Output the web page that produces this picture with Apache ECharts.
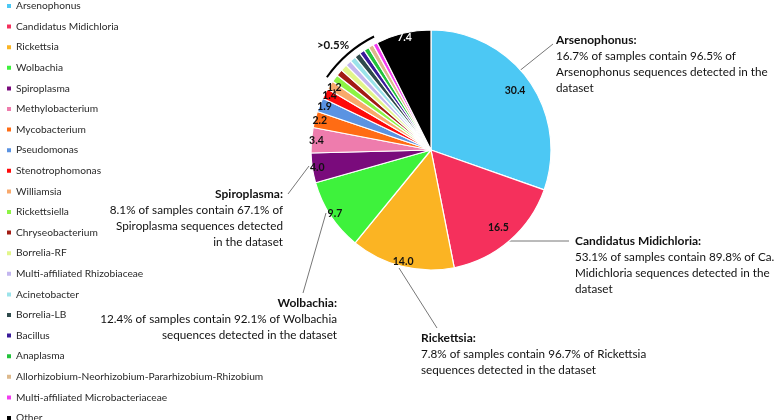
<!DOCTYPE html>
<html>
<head>
<meta charset="utf-8">
<script src="https://cdn.jsdelivr.net/npm/echarts@6/dist/echarts.min.js"></script>
<style>
  html, body { margin: 0; padding: 0; background: #fff; }
  #chart { width: 778px; height: 420px; }
</style>
</head>
<body>
<div id="chart"></div>
<script>
// genera, clockwise from 12 o'clock
const genera = ['Arsenophonus', 'Candidatus Midichloria', 'Rickettsia', 'Wolbachia', 'Spiroplasma',
  'Methylobacterium', 'Mycobacterium', 'Pseudomonas', 'Stenotrophomonas', 'Williamsia',
  'Rickettsiella', 'Chryseobacterium', 'Borrelia-RF', 'Multi-affiliated Rhizobiaceae', 'Acinetobacter',
  'Borrelia-LB', 'Bacillus', 'Anaplasma', 'Allorhizobium-Neorhizobium-Pararhizobium-Rhizobium',
  'Multi-affiliated Microbacteriaceae', 'Other'];
// % of sequences
const shares = [30.4, 16.5, 14.0, 9.7, 4.0, 3.4, 2.2, 1.9, 1.4, 1.2,
  1.0, 0.9, 0.9, 0.8, 0.8, 0.8, 0.7, 0.7, 0.7, 0.6, 7.4];
const colors = ['#4cc8f4', '#f5305c', '#fbb423', '#3ef23c', '#7a0b7c', '#ee7cad', '#ff6c14', '#5a93e2',
  '#ff0a0a', '#f8a96c', '#8cf444', '#a21c14', '#e2f68a', '#c3b6ef', '#9be3ea', '#2f4a4b', '#3a1b9a',
  '#22c33b', '#ddb98c', '#f23cf0', '#000000'];
const labelMin = 1.2;      // slices below this carry no number
const bigMin = 15;         // big slices get their number a bit further in
const smallFrom = 10;      // first of the ">0.5%" group
const smallTo = 19;        // last of the ">0.5%" group

const notes = [
  { title: 'Arsenophonus:', lines: ['16.7% of samples contain 96.5% of', 'Arsenophonus sequences detected in the', 'dataset'] },
  { title: 'Candidatus Midichloria:', lines: ['53.1% of samples contain 89.8% of Ca.', 'Midichloria sequences detected in the', 'dataset'] },
  { title: 'Rickettsia:', lines: ['7.8% of samples contain 96.7% of Rickettsia', 'sequences detected in the dataset'] },
  { title: 'Wolbachia:', lines: ['12.4% of samples contain 92.1% of Wolbachia', 'sequences detected in the dataset'] },
  { title: 'Spiroplasma:', lines: ['8.1% of samples contain 67.1% of', 'Spiroplasma sequences detected', 'in the dataset'] }
];

const cx = 431, cy = 150, R = 120;
const font = 'Lato, "Noto Sans", sans-serif';

let chart = echarts.init(document.getElementById('chart'));

const pieData = genera.map((g, i) => ({ name: g, value: shares[i], itemStyle: { color: colors[i] } }));
const labelData = genera.map((g, i) => ({
  name: g, value: shares[i],
  label: { color: i === genera.length - 1 ? '#fff' : '#111' }
}));

// arc over the small group, angles derived from the data
const total = shares.reduce((a, b) => a + b, 0);
const before = shares.slice(0, smallFrom).reduce((a, b) => a + b, 0);
const groupSum = shares.slice(smallFrom, smallTo + 1).reduce((a, b) => a + b, 0);
const a0 = (before / total) * 2 * Math.PI - Math.PI / 2;
const a1 = ((before + groupSum) / total) * 2 * Math.PI - Math.PI / 2;

function noteText(n) {
  return '{b|' + n.title + '}\n' + n.lines.join('\n');
}
const noteRich = { b: { fontWeight: 'bold', fontSize: 12, fontFamily: font, color: '#111', lineHeight: 16 } };
function note(x, y, n, align) {
  return {
    type: 'text', x: x, y: y,
    style: {
      text: noteText(n), rich: noteRich, fontFamily: font, fontSize: 11.7, lineHeight: 16,
      fill: '#111', align: align, verticalAlign: 'top'
    }
  };
}
function lead(pts) {
  return { type: 'polyline', shape: { points: pts }, style: { stroke: '#777', lineWidth: 1, fill: null } };
}
function labelRing(radius, keep) {
  return {
    type: 'pie', center: [cx, cy], radius: radius, startAngle: 90,
    data: labelData, silent: true, avoidLabelOverlap: false,
    itemStyle: { color: 'transparent' },
    emphasis: { disabled: true },
    labelLine: { show: false },
    labelLayout: { hideOverlap: false },
    label: {
      show: true, position: 'inside', fontFamily: font, fontWeight: 'bold', fontSize: 10.5,
      formatter: p => keep(p.value) ? p.value.toFixed(1) : ''
    }
  };
}

chart.setOption({
  animation: false,
  color: colors,
  legend: {
    orient: 'vertical', left: 0, top: -5, height: 440,
    data: genera,
    icon: 'rect', itemWidth: 6, itemHeight: 6, itemGap: 8.6,
    selectedMode: false,
    textStyle: { fontFamily: font, fontSize: 10.2, color: '#2a2a2a', lineHeight: 12, padding: [0, 0, 0, -1] }
  },
  series: [
    {
      type: 'pie', center: [cx, cy], radius: [0, R], startAngle: 90,
      data: pieData, label: { show: false }, labelLine: { show: false },
      itemStyle: { borderColor: '#fff', borderWidth: 1.2 },
      emphasis: { disabled: true }, silent: true
    },
    labelRing([76, 124], v => v >= bigMin),
    labelRing([98, 126], v => v >= labelMin && v < bigMin)
  ],
  graphic: [
    {
      type: 'arc', shape: { cx: cx, cy: cy, r: 127, startAngle: a0, endAngle: a1 },
      style: { stroke: '#000', lineWidth: 2, fill: null }
    },
    {
      type: 'text', x: 333, y: 45,
      style: { text: '>0.5%', fontFamily: font, fontWeight: 'bold', fontSize: 11.5, fill: '#111', align: 'center', verticalAlign: 'middle' }
    },
    lead([[518, 72], [553, 44]]),
    lead([[503, 241], [569, 241]]),
    lead([[399, 268], [437, 328]]),
    lead([[326, 213], [303, 293]]),
    lead([[309, 166], [288, 194]]),
    note(556, 32, notes[0], 'left'),
    note(575, 233, notes[1], 'left'),
    note(421, 330, notes[2], 'left'),
    note(337, 295, notes[3], 'right'),
    note(283, 186, notes[4], 'right')
  ]
});
</script>
</body>
</html>
